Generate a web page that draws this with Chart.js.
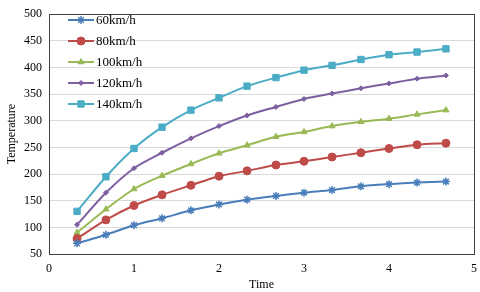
<!DOCTYPE html>
<html>
<head>
<meta charset="utf-8">
<script src="https://cdn.jsdelivr.net/npm/chart.js@4/dist/chart.umd.min.js"></script>
<style>
  html,body{margin:0;padding:0;background:#fff;}
  #wrap{width:480px;height:292px;}
</style>
</head>
<body>
<div id="wrap"><canvas id="c" width="480" height="292"></canvas></div>
<script>
const times = [0.33, 0.67, 1, 1.33, 1.67, 2, 2.33, 2.67, 3, 3.33, 3.67, 4, 4.33, 4.67];
const labels = ['60km/h', '80km/h', '100km/h', '120km/h', '140km/h'];
const v60  = [70, 86, 104, 117, 132, 143, 152, 159, 165, 170, 177, 181, 184, 186];
const v80  = [79, 114, 141, 161, 179, 196, 206, 217, 224, 232, 240, 248, 255, 258];
const v100 = [90, 134, 172, 197, 219, 239, 254, 270, 279, 290, 298, 304, 312, 320];
const v120 = [105, 165, 211, 240, 267, 290, 310, 326, 341, 351, 361, 370, 379, 385];
const v140 = [130, 195, 248, 288, 320, 343, 365, 381, 395, 404, 415, 424, 429, 435];
const yTicks = [50, 100, 150, 200, 250, 300, 350, 400, 450, 500];
const xTicks = [0, 1, 2, 3, 4, 5];

const colors = ['#4A7EBB', '#BE4B48', '#98B954', '#7D60A0', '#4BACC6'];
const styles = [
  {pointStyle:'star', r:4},
  {pointStyle:'circle', r:4},
  {pointStyle:'triangle', r:3.5},
  {pointStyle:'rectRot', r:2.5},
  {pointStyle:'rect', r:4.5}
];
const series = [v60, v80, v100, v120, v140];

const datasets = series.map((vals, i) => ({
  label: labels[i],
  data: vals.map((y, k) => ({x: times[k], y})),
  borderColor: colors[i],
  backgroundColor: colors[i],
  borderWidth: 2,
  pointStyle: styles[i].pointStyle,
  pointRadius: styles[i].r,
  pointBorderWidth: i === 0 ? 1.5 : 1,
  tension: 0.3,
  fill: false
}));

const serif = 'Liberation Serif, Times New Roman, serif';

// border round the plot + legend drawn inside it
const frameAndLegend = {
  id: 'frameAndLegend',
  afterDraw(chart){
    const {ctx, chartArea:a} = chart;
    ctx.save();
    ctx.strokeStyle = '#404040';
    ctx.lineWidth = 1;
    ctx.strokeRect(Math.round(a.left)+0.5, Math.round(a.top)+0.5, Math.round(a.right-a.left), Math.round(a.bottom-a.top));

    ctx.font = '13px ' + serif;
    ctx.textBaseline = 'middle';
    ctx.fillStyle = '#000';
    labels.forEach((lab, i) => {
      const y = 20 + i * 21;
      ctx.strokeStyle = colors[i];
      ctx.lineWidth = 2;
      ctx.beginPath();
      ctx.moveTo(68, y);
      ctx.lineTo(94, y);
      ctx.stroke();
      ctx.fillStyle = colors[i];
      ctx.lineWidth = i === 0 ? 1.5 : 1;
      if (Chart.helpers && Chart.helpers.drawPoint) {
        Chart.helpers.drawPoint(ctx, {pointStyle: styles[i].pointStyle, radius: styles[i].r, rotation: 0, borderWidth: 1}, 81, y);
      }
      ctx.fillStyle = '#000';
      ctx.fillText(lab, 96, y + 1);
    });
    ctx.restore();
  }
};

new Chart(document.getElementById('c'), {
  type: 'line',
  data: { datasets },
  options: {
    responsive: false,
    animation: false,
    layout: { padding: { top: 8, right: 6, left: 0, bottom: 0 } },
    plugins: { legend: { display: false }, tooltip: { enabled: false } },
    scales: {
      x: {
        type: 'linear',
        min: 0, max: 5,
        afterBuildTicks: s => { s.ticks = xTicks.map(v => ({value: v})); },
        grid: { display: false, drawTicks: false },
        border: { color: '#404040' },
        ticks: { color: '#000', padding: 8, font: { family: serif, size: 12 } },
        title: { display: true, text: 'Time', color: '#000', padding: {top: 2, bottom: 0}, font: { family: serif, size: 12 } },
        afterFit: s => { s.height = 38; s.paddingRight = 0; s.paddingLeft = 0; }
      },
      y: {
        min: 50, max: 500,
        afterBuildTicks: s => { s.ticks = yTicks.map(v => ({value: v})); },
        grid: { color: '#D9D9D9', lineWidth: 1, drawTicks: false },
        border: { color: '#404040' },
        ticks: { color: '#000', padding: 7, font: { family: serif, size: 12 } },
        title: { display: true, text: 'Temperature', color: '#000', padding: {top: 5, bottom: 0}, font: { family: serif, size: 12 } },
        afterFit: s => { s.width = 49; }
      }
    }
  },
  plugins: [frameAndLegend]
});
</script>
</body>
</html>
